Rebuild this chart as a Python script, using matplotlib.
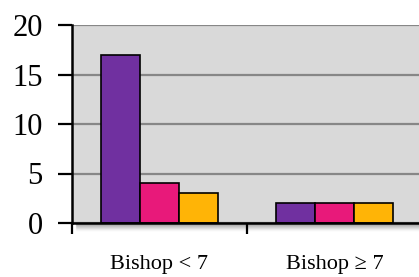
import numpy as np
import matplotlib
matplotlib.use('Agg')
from matplotlib import pyplot as plt
from matplotlib.patches import Rectangle

# data
categories = ['Bishop < 7', 'Bishop \u2265 7']
series_a = [17, 2]
series_b = [4, 2]
series_c = [3, 2]
colors = ['#7030A0', '#E8197A', '#FFB406']

plt.rcParams['font.family'] = ['Liberation Serif', 'DejaVu Serif']

W, H = 419, 277
fig = plt.figure(figsize=(W / 100, H / 100), dpi=100)
# axes box in pixels: left 72, bottom 223 (from top), top 25, width 350
ax = fig.add_axes([72 / W, (H - 223) / H, 350 / W, (223 - 25) / H])
ax.set_facecolor('#D9D9D9')

# soft drop shadow under the plot area
for k in range(8):
    fig.patches.append(Rectangle((76 / W, (H - 224 - k) / H), 350 / W, 1 / H,
                                 transform=fig.transFigure, color='black',
                                 alpha=0.13 * (1 - k / 8) ** 1.5, zorder=0))

x = np.arange(len(categories)) + 0.5
bw = 39 / 175
for i, vals in enumerate([series_a, series_b, series_c]):
    ax.bar(x + (i - 1) * bw, vals, bw, color=colors[i], edgecolor='black',
           linewidth=1.2, zorder=3)

ax.set_xlim(0, 2)
ax.set_ylim(0, 20)
ax.set_yticks([0, 5, 10, 15, 20])
ax.yaxis.grid(True, color='#878787', linewidth=1.6, zorder=1)
ax.set_axisbelow(True)

ax.set_xticks([0, 1, 2])
ax.set_xticklabels([])
ax.set_xticks(x, minor=True)
ax.set_xticklabels(categories, minor=True, fontsize=16)
ax.tick_params(axis='x', which='minor', length=0, pad=23)
ax.tick_params(axis='x', which='major', length=8, width=1.6, direction='out')
ax.tick_params(axis='y', length=10, width=1.6, direction='out', labelsize=22, pad=11)

for s in ['top', 'right']:
    ax.spines[s].set_visible(False)
for s in ['left', 'bottom']:
    ax.spines[s].set_linewidth(1.8)
    ax.spines[s].set_zorder(4)

fig.savefig('out.png', dpi=100)
